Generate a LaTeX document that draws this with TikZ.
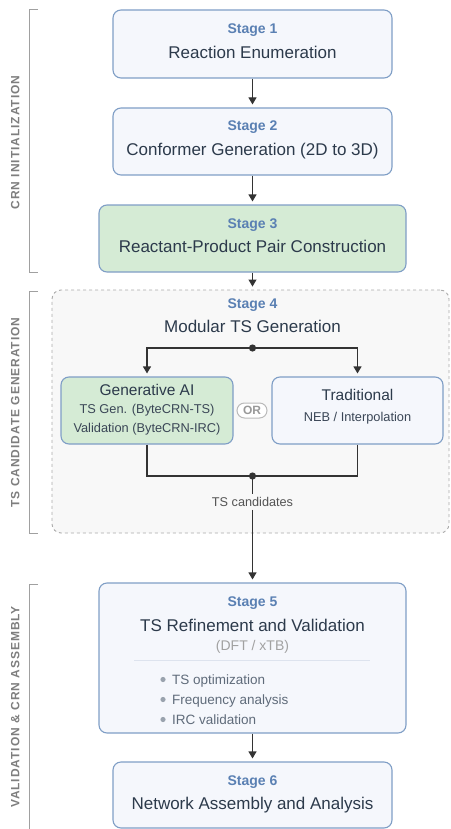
\documentclass[tikz,border=0pt]{standalone}
\usepackage{fontspec}
\setmainfont{Liberation Sans}
\newfontfamily\sidefont[LetterSpace=8]{Liberation Sans}
\usetikzlibrary{arrows.meta}
\definecolor{boxfill}{HTML}{F5F7FC}
\definecolor{boxdraw}{HTML}{7F9EC6}
\definecolor{greenfill}{HTML}{D5EBD5}
\definecolor{stageblue}{HTML}{5A80B3}
\definecolor{maintext}{HTML}{2C3A4B}
\definecolor{subtext}{HTML}{3A4656}
\definecolor{bullettext}{HTML}{5F6B7A}
\definecolor{bulletdot}{HTML}{9AA3AE}
\definecolor{arrowc}{HTML}{333333}
\definecolor{dashfill}{HTML}{F8F8F8}
\definecolor{dashdraw}{HTML}{AAAAAA}
\definecolor{sidegray}{HTML}{7E7E7E}
\definecolor{bracketc}{HTML}{A0A0A0}
\definecolor{sepc}{HTML}{DDE3EE}
\begin{document}
\begin{tikzpicture}[x=1pt,y=-1pt,
  stagebox/.style={draw=boxdraw, fill=boxfill, line width=1.1pt, rounded corners=8pt, inner sep=0pt},
  greenbox/.style={stagebox, fill=greenfill},
  stagelbl/.style={text=stageblue, font=\fontsize{14}{16}\selectfont\bfseries, inner sep=0pt, anchor=base},
  maintxt/.style={text=maintext, font=\fontsize{17}{20}\selectfont, inner sep=0pt, anchor=base},
  midtxt/.style={text=maintext, font=\fontsize{15.5}{18}\selectfont, inner sep=0pt, anchor=base},
  subtxt/.style={text=subtext, font=\fontsize{12.8}{15}\selectfont, inner sep=0pt, anchor=base},
  bullettxt/.style={text=bullettext, font=\fontsize{13.5}{16}\selectfont, inner sep=0pt, anchor=base west},
  sidelbl/.style={text=sidegray, font=\sidefont\fontsize{12}{14}\selectfont\bfseries, inner sep=0pt, rotate=90},
  bracket/.style={draw=bracketc, line width=1pt},
  conn/.style={draw=arrowc, line width=1.1pt},
  arr/.style={conn, -{Triangle[length=7pt,width=8pt]}, shorten >=3pt},
]
\useasboundingbox (0,0) rectangle (450,829);

% side brackets and labels
\draw[bracket] (38,10) -- (29.5,10) -- (29.5,272) -- (38,272);
\draw[bracket] (38,291) -- (29.5,291) -- (29.5,533) -- (38,533);
\draw[bracket] (38,584) -- (29.5,584) -- (29.5,829);
\node[sidelbl] (side1) at (15.3,142.5) {CRN INITIALIZATION};
\node[sidelbl] (side2) at (15.3,412.5) {TS CANDIDATE GENERATION};
\node[sidelbl] (side3) at (15.3,707) {VALIDATION \& CRN ASSEMBLY};

% Stage 1-3
\node[stagebox, minimum width=279pt, minimum height=68pt] (s1) at (252.5,44) {};
\node[stagelbl] (s1a) at (252.5,33.5) {Stage 1};
\node[maintxt] (s1b) at (252.5,58.3) {Reaction Enumeration};

\node[stagebox, minimum width=279pt, minimum height=67pt] (s2) at (252.5,141.5) {};
\node[stagelbl] (s2a) at (252.5,131) {Stage 2};
\node[maintxt] (s2b) at (252.5,156) {Conformer Generation (2D to 3D)};

\node[greenbox, minimum width=307pt, minimum height=67pt] (s3) at (252.5,238.5) {};
\node[stagelbl] (s3a) at (252.5,228) {Stage 3};
\node[maintxt] (s3b) at (252.5,252.5) {Reactant-Product Pair Construction};

% Stage 4 dashed container
\node[draw=dashdraw, fill=dashfill, dashed, line width=0.9pt, rounded corners=9pt,
      minimum width=397pt, minimum height=243pt, inner sep=0pt] (s4) at (250.5,411.5) {};
\node[stagelbl] (s4a) at (252.5,308) {Stage 4};
\node[maintxt] (s4b) at (252.5,332.5) {Modular TS Generation};

\node[greenbox, minimum width=172pt, minimum height=67pt] (gen) at (147,410.5) {};
\node[midtxt] (gena) at (147,395) {Generative AI};
\node[subtxt] (genb) at (147,413.5) {TS Gen. (ByteCRN-TS)};
\node[subtxt] (genc) at (147,432.5) {Validation (ByteCRN-IRC)};

\node[stagebox, minimum width=171pt, minimum height=67pt] (trad) at (357.5,410.5) {};
\node[midtxt] (trada) at (357.5,400) {Traditional};
\node[subtxt] (tradb) at (357.5,421.5) {NEB / Interpolation};

\node[draw=black!27, fill=white, line width=1pt, rounded corners=7.5pt,
      minimum width=30pt, minimum height=15pt, inner sep=0pt,
      text=black!40, font=\fontsize{12}{14}\selectfont\bfseries] (or) at (252,410.5) {OR};

\coordinate (tdot) at (252.5,348);
\coordinate (bdot) at (252.5,476);
\draw[arr] (tdot) -| (gen.north);
\draw[arr] (tdot) -| (trad.north);
\draw[conn] (gen.south) |- (bdot);
\draw[conn] (trad.south) |- (bdot);
\fill[arrowc] (tdot) circle[radius=3.6pt];
\fill[arrowc] (bdot) circle[radius=3.6pt];
\node[text=black!67, font=\fontsize{12.7}{15}\selectfont, inner sep=3pt] (tsc) at (252.5,502) {TS candidates};

% Stage 5
\node[stagebox, minimum width=307pt, minimum height=150pt] (s5) at (252.5,658) {};
\node[stagelbl] (s5a) at (252.5,606.5) {Stage 5};
\node[maintxt] (s5b) at (252.5,631.5) {TS Refinement and Validation};
\node[text=black!37, font=\fontsize{14}{16}\selectfont, inner sep=0pt, anchor=base] (s5c) at (252.5,650) {(DFT / xTB)};
\draw[sepc, line width=1pt] (134,660) -- (370,660);
\fill[bulletdot] (163,679.5) circle[radius=2.6pt];
\fill[bulletdot] (163,699.5) circle[radius=2.6pt];
\fill[bulletdot] (163,719.5) circle[radius=2.6pt];
\node[bullettxt] (b1) at (172,684) {TS optimization};
\node[bullettxt] (b2) at (172,704) {Frequency analysis};
\node[bullettxt] (b3) at (172,724) {IRC validation};

% Stage 6
\node[stagebox, minimum width=279pt, minimum height=66pt] (s6) at (252.5,795) {};
\node[stagelbl] (s6a) at (252.5,785) {Stage 6};
\node[maintxt] (s6b) at (252.5,809) {Network Assembly and Analysis};

% connectors
\draw[arr] (s1) -- (s2);
\draw[arr] (s2) -- (s3);
\draw[arr] (s3.south) -- (s3.south |- s4.north);
\draw[conn] (bdot) -- (tsc.north);
\draw[arr] (tsc.south) -- (s5.north);
\draw[arr] (s5) -- (s6);
\end{tikzpicture}
\end{document}
